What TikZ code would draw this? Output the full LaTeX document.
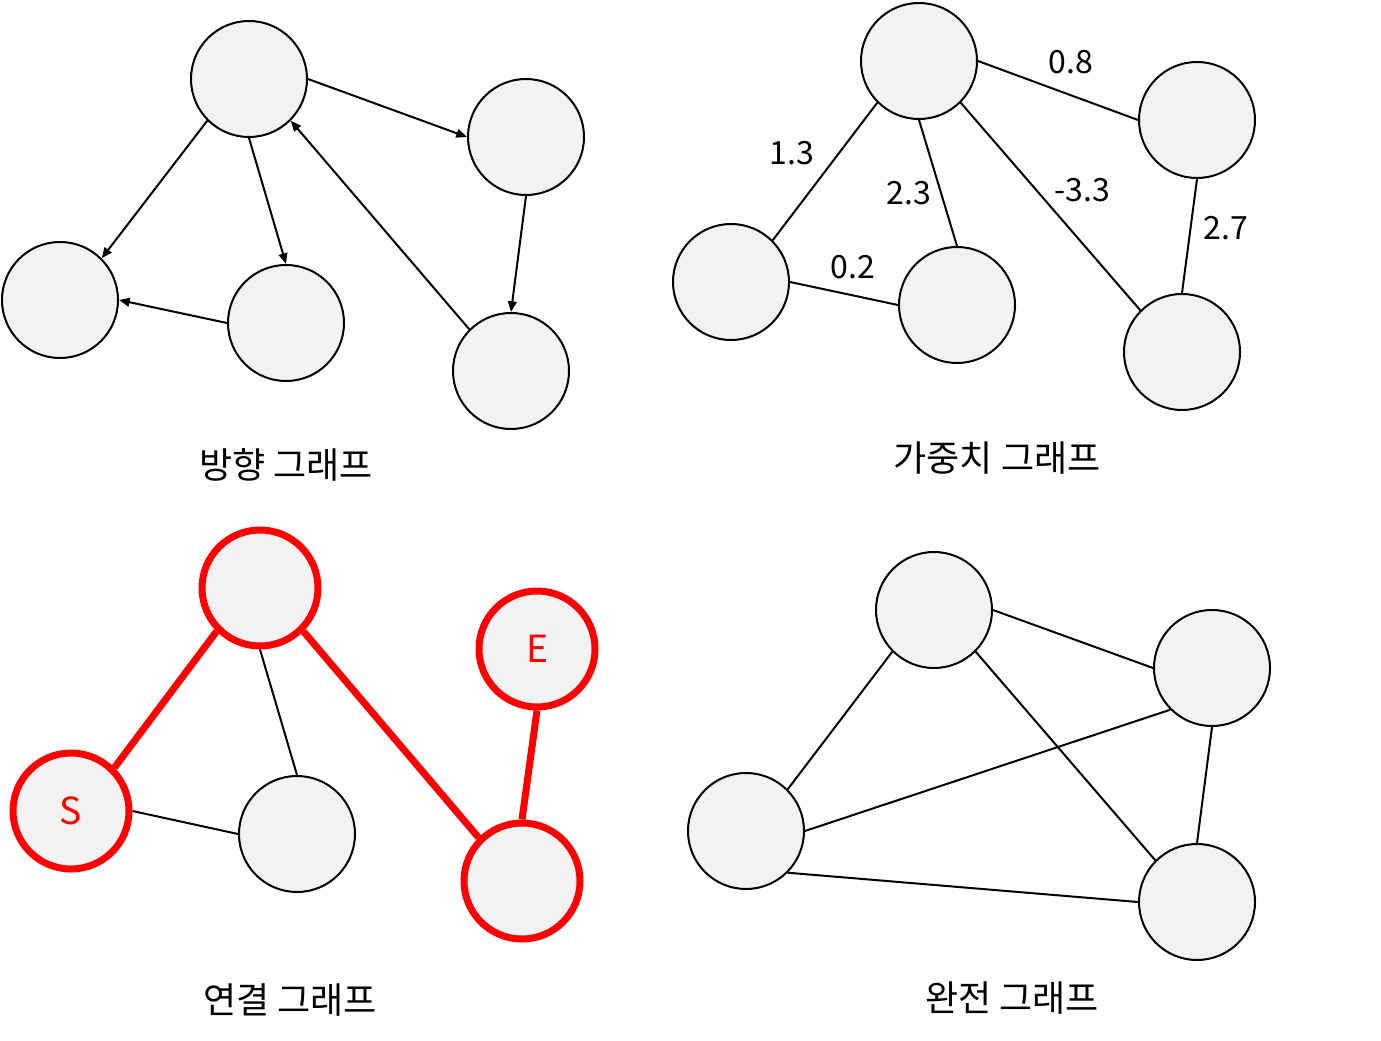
\documentclass[tikz,border=0pt]{standalone}
\usepackage{fontspec}
\setmainfont{Noto Sans CJK KR}
\usetikzlibrary{arrows.meta}
\definecolor{nodegray}{HTML}{F2F2F2}
\definecolor{pathred}{HTML}{FF0000}

\begin{document}
\begin{tikzpicture}[
    x=0.75pt, y=-0.75pt,
    font=\fontsize{24}{28}\selectfont,
    vertex/.style={circle, draw, line width=1.5pt, fill=nodegray, minimum size=87pt, inner sep=0pt},
    redvertex/.style={vertex, draw=pathred, line width=5.25pt, text=pathred, font=\fontsize{28}{32}\selectfont},
    edge/.style={line width=1.5pt},
    redge/.style={line width=5.25pt, draw=pathred},
    arrow/.style={edge, -{Triangle[length=8pt,width=6.5pt]}},
    weight/.style={inner sep=0pt},
    caption/.style={inner sep=0pt, font=\fontsize{27}{31}\selectfont}
]
\useasboundingbox (0,0) rectangle (1381,1041);

% directed graph
\node[vertex] (d1) at (249,79) {};
\node[vertex] (d2) at (526,137) {};
\node[vertex] (d3) at (60,300) {};
\node[vertex] (d4) at (286,323) {};
\node[vertex] (d5) at (511,371) {};

\draw[arrow] (d1.east) -- (d2.west);
\draw[arrow] (d1.south west) -- (d3.north east);
\draw[arrow] (d1.south) -- (d4.north);
\draw[arrow] (d4.west) -- (d3.east);
\draw[arrow] (d5.north west) -- (d1.south east);
\draw[arrow] (d2.south) -- (d5.north);
\node[caption] (cap1) at (286,465) {방향 그래프};

% weighted graph
\node[vertex] (w1) at (919,61) {};
\node[vertex] (w2) at (1197,120) {};
\node[vertex] (w3) at (731,282) {};
\node[vertex] (w4) at (957,305) {};
\node[vertex] (w5) at (1182,352) {};

\draw[edge] (w1.east) -- (w2.west);
\draw[edge] (w1.south west) -- (w3.north east);
\draw[edge] (w1.south) -- (w4.north);
\draw[edge] (w1.south east) -- (w5.north west);
\draw[edge] (w3.east) -- (w4.west);
\draw[edge] (w2.south) -- (w5.north);
\node[weight] (l12) at (1071,62) {0.8};
\node[weight] (l13) at (792,153) {1.3};
\node[weight] (l14) at (909,193) {2.3};
\node[weight] (l15) at (1082,190) {-3.3};
\node[weight] (l34) at (853,267) {0.2};
\node[weight] (l25) at (1226,228) {2.7};
\node[caption] (cap2) at (997,458) {가중치 그래프};

% connected graph
\node[redvertex] (c1) at (260,588) {};
\node[redvertex] (c2) at (537,649) {E};
\node[redvertex] (c3) at (71,811) {S};
\node[vertex] (c4) at (297,834) {};
\node[redvertex] (c5) at (522,881) {};

\draw[redge] (c1.south west) -- (c3.north east);
\draw[edge] (c1.south) -- (c4.north);
\draw[redge] (c1.south east) -- (c5.north west);
\draw[edge] (c3.east) -- (c4.west);
\draw[redge] (c2.south) -- (c5.north);
\node[caption] (cap3) at (290,1000) {연결 그래프};

% complete graph
\node[vertex] (k1) at (934,610) {};
\node[vertex] (k2) at (1212,668) {};
\node[vertex] (k3) at (746,831) {};
\node[vertex] (k4) at (1197,902) {};

\draw[edge] (k1.east) -- (k2.west);
\draw[edge] (k1.south west) -- (k3.north east);
\draw[edge] (k1.south east) -- (k4.north west);
\draw[edge] (k2.south west) -- (k3.east);
\draw[edge] (k2.south) -- (k4.north);
\draw[edge] (k3.south east) -- (k4.west);
\node[caption] (cap4) at (1012,998) {완전 그래프};
\end{tikzpicture}
\end{document}
